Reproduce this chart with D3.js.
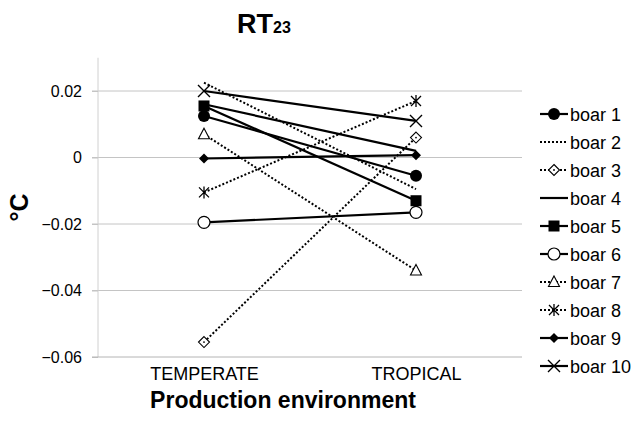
<!DOCTYPE html>
<html>
<head>
<meta charset="utf-8">
<script src="https://cdn.jsdelivr.net/npm/d3@7"></script>
<style>
  body { margin: 0; background: #fff; }
  text { font-family: "Liberation Sans", Arial, sans-serif; fill: #000; }
</style>
</head>
<body>
<svg id="chart" width="640" height="424"></svg>
<script>
// Data
const environments = ["TEMPERATE", "TROPICAL"];
const boars = ["boar 1", "boar 2", "boar 3", "boar 4", "boar 5",
               "boar 6", "boar 7", "boar 8", "boar 9", "boar 10"];
const temperate = [0.0125, 0.0225, -0.0555, 0.016, 0.0155, -0.0195, 0.007, -0.0105, -0.0003, 0.020];
const tropical  = [-0.0055, -0.0095, 0.006, 0.002, -0.013, -0.0165, -0.034, 0.017, 0.0007, 0.011];
const yTicks = [0.02, 0, -0.02, -0.04, -0.06];

// line style + marker per boar
const dotted  = [false, true, true, false, false, false, true, true, false, false];
const markers = ["dot", "none", "diamondOpen", "none", "square", "circleOpen", "triangle", "asterisk", "diamond", "cross"];

const svg = d3.select("#chart");

const x = d3.scalePoint().domain(environments).range([98, 522]).padding(0.5);
const y = d3.scaleLinear().domain([-0.06, 0.03]).range([357, 57.75]);

// gridlines
svg.append("g").selectAll("line")
  .data(yTicks.filter(d => d !== -0.06))
  .join("line")
  .attr("x1", 92).attr("x2", 522)
  .attr("y1", d => y(d)).attr("y2", d => y(d))
  .attr("stroke", "#c4c4c4").attr("stroke-width", 1);

// y axis
const yAxis = svg.append("g")
  .attr("transform", "translate(98,0)")
  .call(d3.axisLeft(y).tickValues(yTicks).tickSize(6).tickPadding(10)
    .tickFormat(d => d === 0 ? "0" : d3.format(".2f")(d)));
yAxis.select(".domain").attr("stroke", "#d0d0d0").attr("d", `M0,${y(0.03)}V${y(-0.06)}`);
yAxis.selectAll(".tick line").attr("stroke", "#c4c4c4");
yAxis.selectAll(".tick text").attr("font-size", 16).attr("font-family", "Liberation Sans, Arial, sans-serif");

// x axis
const xAxis = svg.append("g")
  .attr("transform", `translate(0,${y(-0.06)})`)
  .call(d3.axisBottom(x).tickSize(0).tickPadding(10));
xAxis.select(".domain").attr("stroke", "#b4b4b4").attr("d", "M92,0H522");
xAxis.selectAll(".tick text").attr("font-size", 18).attr("font-family", "Liberation Sans, Arial, sans-serif");

// series lines
const line = d3.line().x(d => x(d.env)).y(d => y(d.v));
const series = boars.map((name, i) => ({
  name, i,
  pts: [{ env: environments[0], v: temperate[i] }, { env: environments[1], v: tropical[i] }]
}));

function styleLine(sel) {
  sel.attr("fill", "none")
    .attr("stroke", "#000")
    .attr("stroke-width", d => dotted[d.i] ? 2 : 2.2)
    .attr("stroke-dasharray", d => dotted[d.i] ? "2 2" : null);
}

svg.append("g").selectAll("path")
  .data(series)
  .join("path")
  .attr("d", d => line(d.pts))
  .call(styleLine);

function drawMarker(g, type, cx, cy) {
  const s = g.append("g").attr("transform", `translate(${cx},${cy})`);
  switch (type) {
    case "dot":
      s.append("circle").attr("r", 6).attr("fill", "#000");
      break;
    case "circleOpen":
      s.append("circle").attr("r", 6).attr("fill", "#fff").attr("stroke", "#000").attr("stroke-width", 1.2);
      break;
    case "square":
      s.append("rect").attr("x", -5.5).attr("y", -5.5).attr("width", 11).attr("height", 11).attr("fill", "#000");
      break;
    case "diamond":
      s.append("path").attr("d", "M0,-5L5,0L0,5L-5,0Z").attr("fill", "#000");
      break;
    case "diamondOpen":
      s.append("path").attr("d", "M0,-5.5L5.5,0L0,5.5L-5.5,0Z").attr("fill", "#fff").attr("stroke", "#000").attr("stroke-width", 1.1);
      s.append("circle").attr("r", 0.9).attr("fill", "#000");
      break;
    case "triangle":
      s.append("path").attr("d", "M0,-6L5.5,4.5L-5.5,4.5Z").attr("fill", "#fff").attr("stroke", "#000").attr("stroke-width", 1.1);
      break;
    case "asterisk":
      s.append("path").attr("d", "M-5,-5L5,5M5,-5L-5,5M0,-6V6").attr("stroke", "#000").attr("stroke-width", 1.3);
      break;
    case "cross":
      s.append("path").attr("d", "M-6,-6L6,6M6,-6L-6,6").attr("stroke", "#000").attr("stroke-width", 1.4);
      break;
  }
}

const markG = svg.append("g");
series.forEach(s => {
  s.pts.forEach(p => drawMarker(markG, markers[s.i], x(p.env), y(p.v)));
});

// legend
const legY = d3.scalePoint().domain(boars).range([114, 366]);
const leg = svg.append("g").selectAll("g")
  .data(series)
  .join("g")
  .attr("transform", d => `translate(0,${legY(d.name)})`);
leg.append("path").attr("d", "M540,0H568").call(styleLine);
leg.each(function (d) { drawMarker(d3.select(this), markers[d.i], 554, 0); });
leg.append("text")
  .attr("x", 570).attr("y", 6.5)
  .attr("font-size", 18)
  .text(d => d.name);

// title
const title = svg.append("text")
  .attr("x", 237).attr("y", 33)
  .attr("font-size", 27).attr("font-weight", "bold")
  .text("RT");
title.append("tspan").attr("font-size", 16).text("23");

// axis titles
svg.append("text")
  .attr("transform", `translate(28,${(y(0.03) + y(-0.06)) / 2}) rotate(-90)`)
  .attr("text-anchor", "middle")
  .attr("font-size", 25).attr("font-weight", "bold")
  .text("°C");

svg.append("text")
  .attr("x", 283).attr("y", 408)
  .attr("text-anchor", "middle")
  .attr("font-size", 23).attr("font-weight", "bold")
  .text("Production environment");
</script>
</body>
</html>
